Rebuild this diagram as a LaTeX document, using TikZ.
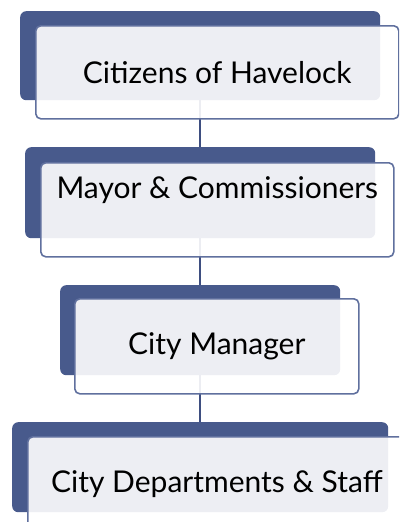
\documentclass[tikz,border=0pt]{standalone}
\usepackage{fontspec}
\setmainfont{Lato}
\usetikzlibrary{positioning,calc}
\definecolor{boxblue}{RGB}{72,90,140}
\definecolor{edgeblue}{RGB}{96,112,158}
\definecolor{lineblue}{RGB}{62,78,128}
\tikzset{%
  backbox/.style={%
    fill=boxblue,
    rounded corners=6pt,
    anchor=north west,
    inner sep=0pt
  },
  frontbox/.style={%
    draw=edgeblue,
    line width=1.6pt,
    fill=white,
    fill opacity=0.9,
    text opacity=1,
    rounded corners=5pt,
    anchor=north west,
    inner sep=0pt,
    text=black,
    font=\fontsize{30}{34}\selectfont
  },
  link/.style={%
    draw=lineblue,
    line width=2.4pt
  }
}

\begin{document}
\begin{tikzpicture}[x=1pt,y=-1pt]
    \useasboundingbox (0,0) rectangle (399,522);
    \clip (0,0) rectangle (399,522);

    % dark boxes behind
    \node[backbox,minimum width=360pt,minimum height=89pt] (citback) at (20,11) {};
    \node[backbox,minimum width=350pt,minimum height=91pt] (mayorback) at (25,147) {};
    \node[backbox,minimum width=280pt,minimum height=90pt] (managerback) at (60,285) {};
    \node[backbox,minimum width=376pt,minimum height=90pt] (staffback) at (12,422) {};

    \draw[link] (citback.south) -- (mayorback.north);
    \draw[link] (mayorback.south) -- (managerback.north);
    \draw[link] (managerback.south) -- (staffback.north);

    % front boxes
    \node[frontbox,minimum width=363pt,minimum height=93pt] (citizens)
      at ([shift={(15,14)}]citback.north west) {Citizens of Havelock};
    \node[frontbox,minimum width=353pt,minimum height=94pt] (mayor)
      at ([shift={(15,15)}]mayorback.north west) {};
    \node[font=\fontsize{30}{34}\selectfont,inner sep=0pt] (mayortext)
      at ([yshift=20pt]mayor.center) {Mayor \& Commissioners};
    \node[frontbox,minimum width=284pt,minimum height=95pt] (manager)
      at ([shift={(14,13)}]managerback.north west) {City Manager};
    \node[frontbox,minimum width=378pt,minimum height=94pt] (staff)
      at ([shift={(15,14)}]staffback.north west) {City Departments \& Staff};
\end{tikzpicture}
\end{document}
